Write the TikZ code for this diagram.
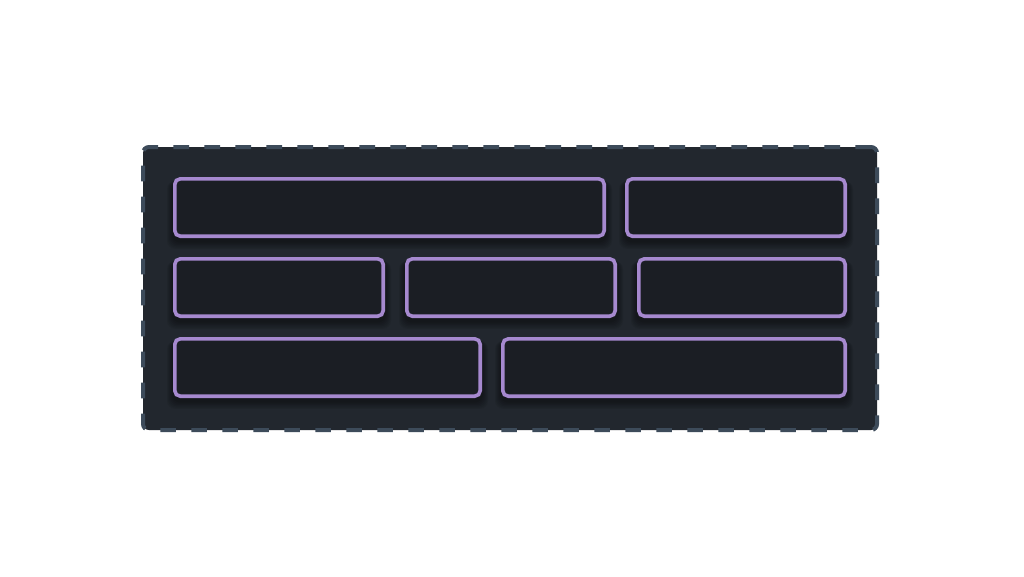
\documentclass[tikz,border=0pt]{standalone}
\definecolor{panelfill}{HTML}{22272E}
\definecolor{paneledge}{HTML}{3D4B5A}
\definecolor{cellfill}{HTML}{1B1E24}
\definecolor{celledge}{HTML}{A689CF}
\pgfdeclarelayer{panellayer}
\pgfdeclarelayer{shadowlayer}
\pgfsetlayers{panellayer,shadowlayer,main}
\begin{document}
\begin{tikzpicture}[x=1pt,y=-1pt,
  panel/.style={draw=paneledge, fill=panelfill, line width=4pt, dash pattern=on 15.7pt off 15.3pt, rounded corners=6pt, inner sep=0pt, shape=rectangle},
  cell/.style={draw=celledge, fill=cellfill, line width=3.6pt, rounded corners=5.5pt, minimum height=57.4pt, inner sep=0pt, shape=rectangle},
  softshade/.style={fill=black, opacity=0.07, rounded corners=8pt}]
\begin{pgfonlayer}{panellayer}
\fill[white] (0,0) rectangle (1024,576);
\node[panel, minimum width=734pt, minimum height=283pt] (panel) at (510,288.5) {};
\end{pgfonlayer}
\useasboundingbox (0,0) rectangle (1024,576);
\node[cell, minimum width=429.4pt] (A) at (389.5,207.5) {};
\node[cell, minimum width=218.4pt] (B) at (736,207.5) {};
\node[cell, minimum width=208.4pt] (C) at (279,287.5) {};
\node[cell, minimum width=208.4pt] (D) at (511,287.5) {};
\node[cell, minimum width=206.4pt] (E) at (742,287.5) {};
\node[cell, minimum width=305.4pt] (F) at (327.5,367.5) {};
\node[cell, minimum width=342.4pt] (G) at (674,367.5) {};
\begin{pgfonlayer}{shadowlayer}
\foreach \n in {A,B,C,D,E,F,G}{
  \foreach \k in {1,...,6}{
    \fill[softshade] ([xshift=-\k pt, yshift=-4pt]\n.north west) rectangle ([xshift=\k pt, yshift=-3pt-1.3*\k pt]\n.south east);
  }
}
\end{pgfonlayer}
\end{tikzpicture}
\end{document}
